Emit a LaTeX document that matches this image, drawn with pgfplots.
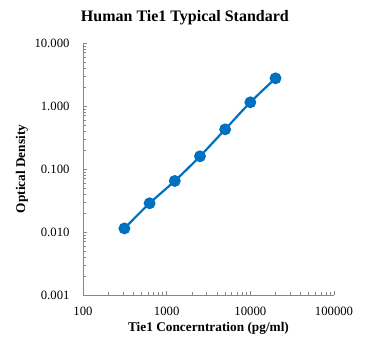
\documentclass[border=0pt]{standalone}
\usepackage{pgfplots}
\pgfplotsset{compat=1.18}
\usepackage{fontspec}
\setmainfont{Liberation Serif}
\definecolor{exblue}{HTML}{0070C0}
\definecolor{axgray}{HTML}{868686}
\begin{document}
\begin{tikzpicture}
\path[use as bounding box] (0,0) rectangle (369pt,353pt);
\begin{axis}[
  at={(83pt,58pt)}, anchor=south west,
  scale only axis, width=251pt, height=252pt,
  xmode=log, ymode=log,
  xmin=100, xmax=100000, ymin=0.001, ymax=10,
  axis x line*=bottom, axis y line*=left,
  axis line style={axgray, line width=0.9pt, -},
  xtick={100,1000,10000,100000},
  xticklabels={100,1000,10000,100000},
  ytick={0.001,0.01,0.1,1,10},
  yticklabels={0.001,0.010,0.100,1.000,10.000},
  minor xtick={200,300,400,500,600,700,800,900,2000,3000,4000,5000,6000,7000,8000,9000,20000,30000,40000,50000,60000,70000,80000,90000},
  minor ytick={0.002,0.003,0.004,0.005,0.006,0.007,0.008,0.009,0.02,0.03,0.04,0.05,0.06,0.07,0.08,0.09,0.2,0.3,0.4,0.5,0.6,0.7,0.8,0.9,2,3,4,5,6,7,8,9},
  tick align=inside,
  major tick length=4pt, minor tick length=3.5pt,
  tick style={axgray, line width=0.7pt},
  ticklabel style={font=\fontsize{12.7}{14}\selectfont, text=black},
  xticklabel style={yshift=-9pt},
  yticklabel style={xshift=-10pt},
  title={\textbf{Human Tie1 Typical Standard}},
  title style={font=\fontsize{16}{18}\selectfont, at={(axis description cs:0.406,1)}, anchor=base, yshift=16pt},
  xlabel={\textbf{Tie1 Concerntration (pg/ml)}},
  xlabel style={font=\fontsize{13.3}{15}\selectfont, at={(axis description cs:0.5,0)}, anchor=center, yshift=-33pt},
  ylabel={\textbf{Optical Density}},
  ylabel style={font=\fontsize{13.3}{15}\selectfont, at={(axis description cs:-0.243,0.5)}, anchor=center},
  clip=false,
]
\addplot[exblue, line width=2.2pt, smooth, mark=*, mark size=4.8pt, mark options={fill=exblue, draw=none, solid}]
coordinates {
(312.5,0.0114) (625,0.0286) (1250,0.0646) (2500,0.159) (5000,0.426) (10000,1.145) (20000,2.75)
};
\end{axis}
\end{tikzpicture}
\end{document}
